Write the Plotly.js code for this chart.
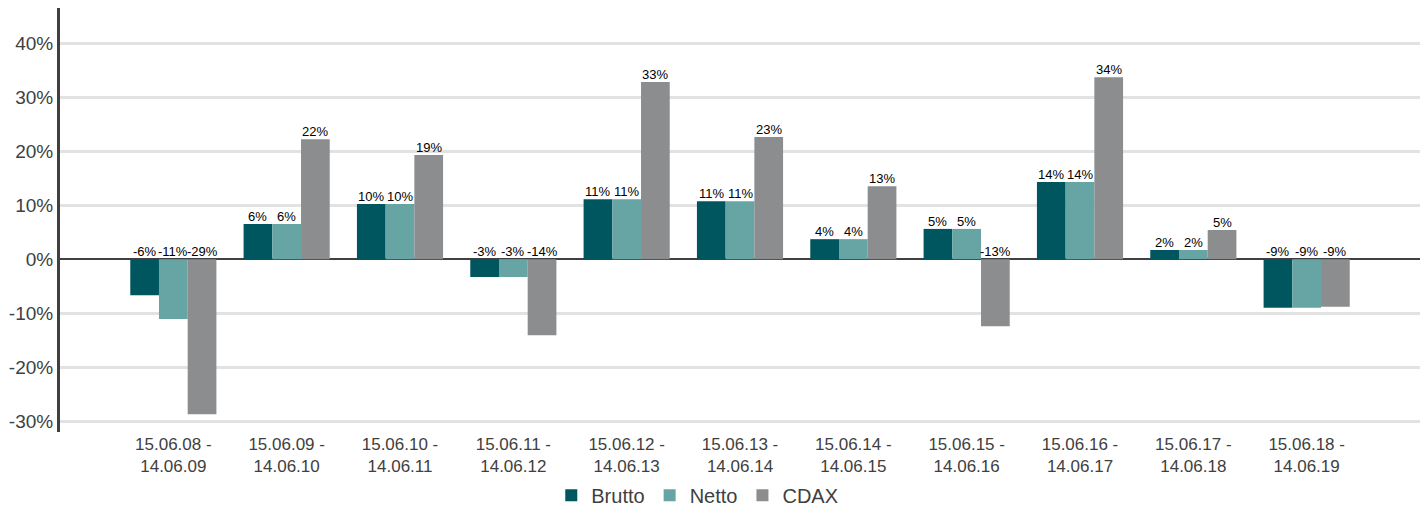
<!DOCTYPE html>
<html>
<head>
<meta charset="utf-8">
<script src="https://cdn.plot.ly/plotly-3.0.1.min.js"></script>
<style>html,body{margin:0;padding:0;background:#fff}#chart{width:1423px;height:506px}</style>
</head>
<body>
<div id="chart"></div>
<script>
const categories = ["15.06.08 -<br>14.06.09","15.06.09 -<br>14.06.10","15.06.10 -<br>14.06.11","15.06.11 -<br>14.06.12","15.06.12 -<br>14.06.13","15.06.13 -<br>14.06.14","15.06.14 -<br>14.06.15","15.06.15 -<br>14.06.16","15.06.16 -<br>14.06.17","15.06.17 -<br>14.06.18","15.06.18 -<br>14.06.19"];
const brutto = [-6.7, 6.5, 10.2, -3.3, 11.1, 10.7, 3.7, 5.6, 14.3, 1.7, -9.0];
const netto  = [-11.1, 6.5, 10.2, -3.3, 11.1, 10.7, 3.7, 5.6, 14.3, 1.7, -9.0];
const cdax   = [-28.7, 22.2, 19.3, -14.1, 32.8, 22.6, 13.5, -12.4, 33.7, 5.4, -8.8];
const bruttoLabels = ["-6%","6%","10%","-3%","11%","11%","4%","5%","14%","2%","-9%"];
const nettoLabels  = ["-11%","6%","10%","-3%","11%","11%","4%","5%","14%","2%","-9%"];
const cdaxLabels   = ["-29%","22%","19%","-14%","33%","23%","13%","-13%","34%","5%","-9%"];
const seriesNames = ["Brutto","Netto","CDAX"];
const colors = ["#00565f","#66a5a4","#8c8d8f"];
const yTicks = [-30,-20,-10,0,10,20,30,40];
const yTickText = ["-30%","-20%","-10%","0%","10%","20%","30%","40%"];

const FONT = 'Liberation Sans, Arial, sans-serif';
const xIdx = categories.map((_, i) => i);
const series = [brutto, netto, cdax];
const labels = [bruttoLabels, nettoLabels, cdaxLabels];
const bargap = 0.24;
const barW = (1 - bargap) / 3;

const traces = series.map((vals, s) => ({
  type: 'bar', name: seriesNames[s], x: xIdx, y: vals,
  marker: {color: colors[s]}, hoverinfo: 'none'
}));

const annotations = [];
series.forEach((vals, s) => {
  vals.forEach((v, i) => {
    annotations.push({
      x: i + (s - 1) * barW, y: Math.max(v, 0), xref: 'x', yref: 'y',
      text: labels[s][i], showarrow: false, yanchor: 'bottom', yshift: -2,
      font: {family: FONT, size: 13, color: '#000'}
    });
  });
});

const layout = {
  width: 1423, height: 506,
  margin: {l: 60, r: 3, t: 8, b: 74},
  paper_bgcolor: '#fff', plot_bgcolor: '#fff',
  barmode: 'group', bargap: bargap, bargroupgap: 0,
  showlegend: true,
  legend: {orientation: 'h', xref: 'container', yref: 'container',
           x: 0.49, xanchor: 'center', y: 0.021, yanchor: 'middle',
           font: {family: FONT, size: 20, color: '#404040'},
           itemwidth: 30, tracegroupgap: 0},
  xaxis: {range: [-1, 11], tickmode: 'array', tickvals: xIdx, ticktext: categories,
          showgrid: false, zeroline: false, showline: false, ticks: '', automargin: false,
          tickfont: {family: FONT, size: 17, color: '#404040'}},
  yaxis: {range: [-32, 46.5], tickmode: 'array', tickvals: yTicks, ticktext: yTickText,
          showgrid: true, gridcolor: '#e2e2e2', gridwidth: 3,
          zeroline: true, zerolinecolor: '#404040', zerolinewidth: 1.5,
          showline: true, linecolor: '#404040', linewidth: 3, ticks: '', automargin: false,
          tickfont: {family: FONT, size: 19, color: '#404040'}},
  annotations: annotations,
  font: {family: FONT}
};

Plotly.newPlot('chart', traces, layout, {displayModeBar: false, staticPlot: true});
</script>
</body>
</html>
